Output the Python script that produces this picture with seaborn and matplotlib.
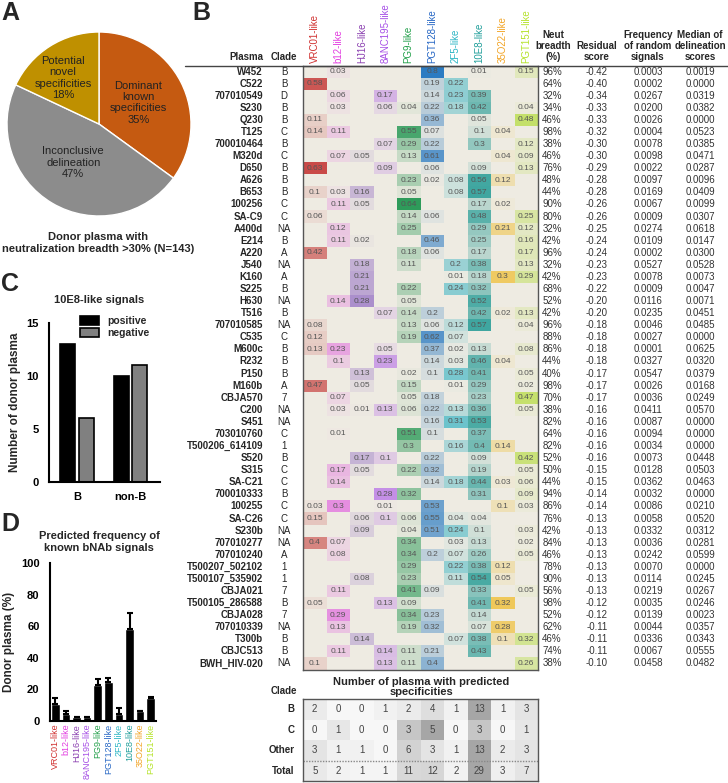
import numpy as np
import pandas as pd
import matplotlib
matplotlib.use('Agg')
import matplotlib.pyplot as plt
import seaborn as sns
from matplotlib.colors import LinearSegmentedColormap
from matplotlib.lines import Line2D

o = np.nan

# --- panel A
pie_labels = ['Dominant\nknown\nspecificities\n35%', 'Inconclusive\ndelineation\n47%',
              'Potential\nnovel\nspecificities\n18%']
pie_share = [35, 47, 18]

# --- panel C
c_groups = ['B', 'non-B']
c_positive = [13, 10]
c_negative = [6, 11]

# --- panel D
specs = ['VRC01-like', 'b12-like', 'HJ16-like', '8ANC195-like', 'PG9-like',
         'PGT128-like', '2F5-like', '10E8-like', '35O22-like', 'PGT151-like']
d_freq = [11, 4.5, 2.5, 2.5, 22.5, 24.5, 4.5, 58.5, 6.5, 14.5]
d_err = [3.5, 2, 0, 0, 4, 2.5, 3.5, 10, 0, 0.5]

# --- panel B
plasma = ['W452', 'C522', '707010549', 'S230', 'Q230', 'T125', '700010464', 'M320d', 'D650', 'A626',
          'B653', '100256', 'SA-C9', 'A400d', 'E214', 'A220', 'J540', 'K160', 'S225', 'H630',
          'T516', '707010585', 'C535', 'M600c', 'R232', 'P150', 'M160b', 'CBJA570', 'C200', 'S451',
          '703010760', 'T500206_614109', 'S520', 'S315', 'SA-C21', '700010333', '100255', 'SA-C26', 'S230b', '707010277',
          '707010240', 'T500207_502102', 'T500107_535902', 'CBJA021', 'T500105_286588', 'CBJA028', '707010339', 'T300b', 'CBJC513', 'BWH_HIV-020']
clade = ['B', 'B', 'D', 'B', 'B', 'C', 'B', 'C', 'B', 'B',
         'B', 'C', 'C', 'NA', 'B', 'A', 'NA', 'A', 'B', 'NA',
         'B', 'NA', 'C', 'B', 'B', 'B', 'A', '7', 'NA', 'NA',
         'C', '1', 'B', 'C', 'C', 'B', 'C', 'C', 'NA', 'NA',
         'A', '1', '1', '7', 'B', '7', 'NA', 'B', 'B', 'NA']
signal = [
    [o, .03, o, o, o, .8, o, .01, o, .15],
    [.58, o, o, o, o, .19, .22, o, o, o],
    [o, .06, o, .17, o, .14, .23, .39, o, o],
    [o, .03, o, .06, .04, .22, .18, .42, o, .04],
    [.11, o, o, o, o, .36, o, .05, o, .48],
    [.14, .11, o, o, .55, .07, o, .1, .04, o],
    [o, o, o, .07, .29, .22, o, .3, o, .12],
    [o, .07, .05, o, .13, .61, o, o, .04, .09],
    [.63, o, o, .09, o, .06, o, .09, o, .13],
    [o, o, o, o, .23, .02, .08, .56, .12, o],
    [.1, .03, .16, o, .05, o, .08, .57, o, o],
    [o, .11, .05, o, .64, o, o, .17, .02, o],
    [.06, o, o, o, .14, .06, o, .48, o, .25],
    [o, .12, o, o, .25, o, o, .29, .21, .12],
    [o, .11, .02, o, o, .46, o, .25, o, .16],
    [.42, o, o, o, .18, .06, o, .17, o, .17],
    [o, o, .18, o, .11, o, .2, .38, o, .13],
    [o, o, .21, o, o, o, .01, .18, .3, .29],
    [o, o, .21, o, .22, o, .24, .32, o, o],
    [o, .14, .28, o, .05, o, o, .52, o, o],
    [o, o, o, .07, .14, .2, o, .42, .02, .13],
    [.08, o, o, o, .13, .06, .12, .57, o, .04],
    [.12, o, o, o, .19, .62, .07, o, o, o],
    [.13, .23, o, .05, o, .37, .02, .13, o, .08],
    [o, .1, o, .23, o, .14, .03, .46, .04, o],
    [o, o, .13, o, .02, .1, .28, .41, o, .05],
    [.47, o, .05, o, .15, o, .01, .29, o, .02],
    [o, .07, o, o, .05, .18, o, .23, o, .47],
    [o, .03, .01, .13, .06, .22, .13, .36, o, .05],
    [o, o, o, o, o, .16, .31, .53, o, o],
    [o, .01, o, o, .51, .1, o, .37, o, o],
    [o, o, o, o, .3, o, .16, .4, .14, o],
    [o, o, .17, .1, o, .22, o, .09, o, .42],
    [o, .17, .05, o, .22, .32, o, .19, o, .05],
    [o, .14, o, o, o, .14, .18, .44, .03, .06],
    [o, o, o, .28, .32, o, o, .31, o, .09],
    [.03, .3, o, .01, o, .53, o, o, .1, .03],
    [.15, o, .06, .1, .06, .55, .04, .04, o, o],
    [o, o, .09, o, .04, .51, .24, .1, o, .03],
    [.4, .07, o, o, .34, o, .03, .13, o, .02],
    [o, .08, o, o, .34, .2, .07, .26, o, .05],
    [o, o, o, o, .29, o, .22, .38, .12, o],
    [o, o, .08, o, .23, o, .11, .54, .05, o],
    [o, .11, o, o, .41, .09, o, .33, o, .05],
    [.05, o, o, .13, .09, o, o, .41, .32, o],
    [o, .29, o, o, .34, .23, o, .14, o, o],
    [o, .13, o, o, .19, .32, o, .07, .28, o],
    [o, o, .14, o, o, o, .07, .38, .1, .32],
    [o, .11, o, .14, .11, .21, o, .43, o, o],
    [.1, o, o, .13, .11, .4, o, o, o, .26],
]
neut_breadth = [96, 64, 32, 34, 46, 98, 38, 46, 76, 48, 44, 90, 80, 32, 42, 96, 32, 42, 68, 52,
                42, 96, 88, 86, 44, 40, 98, 70, 38, 82, 64, 82, 52, 50, 44, 94, 86, 76, 42, 84,
                46, 78, 90, 56, 98, 52, 62, 46, 74, 38]
residual = [-0.42, -0.40, -0.34, -0.33, -0.33, -0.32, -0.30, -0.30, -0.29, -0.28,
            -0.28, -0.26, -0.26, -0.25, -0.24, -0.24, -0.23, -0.23, -0.22, -0.20,
            -0.20, -0.18, -0.18, -0.18, -0.18, -0.17, -0.17, -0.17, -0.16, -0.16,
            -0.16, -0.16, -0.16, -0.15, -0.15, -0.14, -0.14, -0.13, -0.13, -0.13,
            -0.13, -0.13, -0.13, -0.13, -0.12, -0.12, -0.11, -0.11, -0.11, -0.10]
rand_freq = [0.0003, 0.0002, 0.0267, 0.0200, 0.0026, 0.0004, 0.0078, 0.0098, 0.0022, 0.0097,
             0.0169, 0.0067, 0.0009, 0.0274, 0.0109, 0.0002, 0.0527, 0.0078, 0.0009, 0.0116,
             0.0235, 0.0046, 0.0027, 0.0001, 0.0327, 0.0547, 0.0026, 0.0036, 0.0411, 0.0087,
             0.0094, 0.0034, 0.0073, 0.0128, 0.0362, 0.0032, 0.0086, 0.0058, 0.0332, 0.0036,
             0.0242, 0.0070, 0.0114, 0.0219, 0.0035, 0.0139, 0.0044, 0.0336, 0.0067, 0.0458]
median_score = [0.0019, 0.0000, 0.0319, 0.0382, 0.0000, 0.0523, 0.0385, 0.0471, 0.0287, 0.0096,
                0.0409, 0.0099, 0.0307, 0.0618, 0.0147, 0.0300, 0.0528, 0.0073, 0.0047, 0.0071,
                0.0451, 0.0485, 0.0000, 0.0625, 0.0320, 0.0379, 0.0168, 0.0249, 0.0570, 0.0000,
                0.0000, 0.0000, 0.0448, 0.0503, 0.0463, 0.0000, 0.0210, 0.0520, 0.0312, 0.0281,
                0.0599, 0.0000, 0.0245, 0.0267, 0.0246, 0.0023, 0.0357, 0.0343, 0.0555, 0.0482]

# --- bottom count table
count_clades = ['B', 'C', 'Other', 'Total']
count_B = [2, 0, 0, 1, 2, 4, 1, 13, 1, 3]
count_C = [0, 1, 0, 0, 3, 5, 0, 3, 0, 1]
count_other = [3, 1, 1, 0, 6, 3, 1, 13, 2, 3]
count_total = [5, 2, 1, 1, 11, 12, 2, 29, 3, 7]

# styling
spec_colors = ['#d0302f', '#e23de0', '#8a3fb0', '#a64fe6', '#22a04a',
               '#2566c4', '#2bb5c4', '#1f9e9a', '#f2a527', '#b5e32a']
cell_colors = ['#c94a48', '#e58ee0', '#ab8fcc', '#c48fe6', '#2e9b5a',
               '#2b7bc2', '#6cc3cc', '#3fa6a0', '#efc85a', '#c4e06a']
bg = '#eeebe2'

sns.set_style('white')
plt.rcParams['font.family'] = ['Liberation Sans', 'DejaVu Sans']

W, H = 728, 783
fig = plt.figure(figsize=(W / 100, H / 100), dpi=100)


def box(l, t, w, h):
    return [l / W, 1 - (t + h) / H, w / W, h / H]


def ftext(x, y, s, **kw):
    fig.text(x / W, 1 - y / H, s, **kw)


def graphpad(ax):
    sns.despine(ax=ax)
    for s in ['left', 'bottom']:
        ax.spines[s].set_linewidth(1.5)
        ax.spines[s].set_color('black')
    ax.tick_params(direction='out', length=4, width=1.5, colors='black', labelsize=8)
    for t in ax.get_yticklabels() + ax.get_xticklabels():
        t.set_fontweight('bold')


# panel labels
for lab, x, y in [('A', 1, 1), ('B', 192, 1), ('C', 1, 272), ('D', 1, 512)]:
    ftext(x, y, lab, fontsize=18, fontweight='bold', va='top')

# ---------------- A: pie
ax = fig.add_axes(box(7, 32, 184, 184))
ax.pie(pie_share, colors=['#c55a11', '#8c8c8c', '#bf9000'], startangle=90, counterclock=False,
       wedgeprops=dict(edgecolor='white', linewidth=1))
ax.set_xlim(-1, 1)
ax.set_ylim(-1, 1)
for lab, (x, y) in zip(pie_labels, [(0.43, 0.23), (-0.28, -0.42), (-0.39, 0.5)]):
    ax.text(x, y, lab, ha='center', va='center', fontsize=8, color='#222', linespacing=1.15)
ftext(98, 243, 'Donor plasma with\nneutralization breadth >30% (N=143)', ha='center', va='center',
      fontsize=8, fontweight='bold', linespacing=1.3)

# ---------------- C: 10E8-like bars
dfc = pd.DataFrame({'group': c_groups * 2, 'count': c_positive + c_negative,
                    'signal': ['positive'] * 2 + ['negative'] * 2})
ax = fig.add_axes(box(49, 323, 111, 159))
sns.barplot(data=dfc, x='group', y='count', hue='signal', palette=['black', '#808080'],
            edgecolor='black', linewidth=1.2, width=0.7, gap=0.2, ax=ax)
ax.set_ylim(0, 15)
ax.set_yticks([0, 5, 10, 15])
ax.set_xlim(-0.52, 1.55)
ax.set_xlabel('')
ax.set_ylabel('Number of donor plasma', fontsize=8.5, fontweight='bold')
graphpad(ax)
ax.legend(frameon=False, loc='upper left', bbox_to_anchor=(0.24, 1.07), handlelength=1.8,
          handleheight=0.9, prop={'size': 7.5, 'weight': 'bold'}, borderaxespad=0, labelspacing=0.2)
ftext(99, 300, '10E8-like signals', ha='center', va='center', fontsize=8, fontweight='bold')

# ---------------- D: predicted frequency
dfd = pd.DataFrame({'spec': specs, 'freq': d_freq})
ax = fig.add_axes(box(50, 563, 106, 158))
sns.barplot(data=dfd, x='spec', y='freq', color='black', width=0.82, ax=ax)
ax.errorbar(range(len(specs)), d_freq, yerr=[np.zeros(len(specs)), d_err], fmt='none',
            ecolor='black', elinewidth=1.5, capsize=2.5, capthick=1.5)
ax.set_ylim(0, 100)
ax.set_yticks(range(0, 101, 20))
ax.set_xlim(-0.5, 9.5)
ax.set_xlabel('')
ax.set_ylabel('Donor plasma (%)', fontsize=8.5, fontweight='bold')
graphpad(ax)
ax.tick_params(axis='x', length=0, pad=2)
ax.set_xticks(range(len(specs)))
ax.set_xticklabels(specs, rotation=90, fontsize=6.5)
for t, c in zip(ax.get_xticklabels(), spec_colors):
    t.set_color(c)
    t.set_fontweight('normal')
ftext(99, 542, 'Predicted frequency of\nknown bNAb signals', ha='center', va='center',
      fontsize=8, fontweight='bold', linespacing=1.3)

# ---------------- B: heat table
nrow = len(plasma)
top, bot = 65.5, 669.5
sig = pd.DataFrame(signal, index=plasma, columns=specs)
annot = sig.map(lambda v: '' if np.isnan(v) else f'{v:.2f}'.rstrip('0')).values
ax = fig.add_axes(box(303, top, 235, bot - top))
ax.set_facecolor(bg)
for j, col in enumerate(specs):
    mask = np.ones(sig.shape, bool)
    mask[:, j] = False
    mask |= sig.isna().values
    cmap = LinearSegmentedColormap.from_list(col, [bg, cell_colors[j]])
    sns.heatmap(sig, mask=mask, cmap=cmap, vmin=0, vmax=np.nanmax(sig[col]), annot=annot, fmt='',
                annot_kws={'fontsize': 6, 'color': '#555555'}, cbar=False, ax=ax,
                xticklabels=True, yticklabels=False)
ax.xaxis.tick_top()
ax.tick_params(axis='x', length=0, pad=2)
ax.set_xticklabels(specs, rotation=90, fontsize=7, va='bottom')
for t, c in zip(ax.get_xticklabels(), spec_colors):
    t.set_color(c)
ax.set_xlabel('')
ax.set_ylabel('')
for sp in ax.spines.values():
    sp.set_visible(True)
    sp.set_color('#555555')
    sp.set_linewidth(1)

# row labels and clade
ax = fig.add_axes(box(185, top, 118, bot - top))
ax.set_xlim(185, 303)
ax.set_ylim(nrow, 0)
ax.axis('off')
for i, (p, c) in enumerate(zip(plasma, clade)):
    ax.text(263, i + 0.5, p, ha='right', va='center', fontsize=7, fontweight='bold')
    ax.text(284, i + 0.5, c, ha='center', va='center', fontsize=7)

# numeric columns
ax = fig.add_axes(box(539, top, 189, bot - top))
ax.set_xlim(539, 728)
ax.set_ylim(nrow, 0)
ax.axis('off')
for i in range(nrow):
    for x, s in zip([552, 597, 648, 700],
                    [f'{neut_breadth[i]}%', f'{residual[i]:.2f}', f'{rand_freq[i]:.4f}',
                     f'{median_score[i]:.4f}']):
        ax.text(x, i + 0.5, s, ha='center', va='center', fontsize=7, color='#333333')

# headers
hy = top - 3
ftext(263, hy, 'Plasma', ha='right', va='bottom', fontsize=7, fontweight='bold')
ftext(284, hy, 'Clade', ha='center', va='bottom', fontsize=7, fontweight='bold')
for x, s in zip([553, 597, 648, 700],
                ['Neut\nbreadth\n(%)', 'Residual\nscore', 'Frequency\nof random\nsignals',
                 'Median of\ndelineation\nscores']):
    ftext(x, hy, s, ha='center', va='bottom', fontsize=7, fontweight='bold', linespacing=1.15)
fig.add_artist(Line2D([185 / W, 1], [1 - top / H, 1 - top / H], color='#444444', lw=1))

# ---------------- bottom count table
counts = pd.DataFrame([count_B, count_C, count_other, count_total], index=count_clades, columns=specs)
ax = fig.add_axes(box(303, 699, 235, 82))
for r in range(len(count_clades)):
    mask = np.ones(counts.shape, bool)
    mask[r, :] = False
    cmap = LinearSegmentedColormap.from_list('g%d' % r, ['#f7f7f7', '#a6a6a6'])
    sns.heatmap(counts, mask=mask, cmap=cmap, vmin=0, vmax=counts.iloc[r].max(), annot=True, fmt='d',
                annot_kws={'fontsize': 7, 'color': '#444444'}, cbar=False, ax=ax,
                xticklabels=False, yticklabels=True)
ax.tick_params(axis='y', length=0, pad=6)
ax.set_yticklabels(count_clades, rotation=0, fontsize=7, fontweight='bold', ha='right')
ax.set_xlabel('')
ax.set_ylabel('')
ax.axhline(3, color='#888888', ls=(0, (1, 1)), lw=1)
for sp in ax.spines.values():
    sp.set_visible(True)
    sp.set_color('#555555')
    sp.set_linewidth(1)
ftext(297, 691, 'Clade', ha='right', va='center', fontsize=7, fontweight='bold')
ftext(421, 687, 'Number of plasma with predicted\nspecificities', ha='center', va='center',
      fontsize=8, fontweight='bold', linespacing=1.1)

plt.savefig('out.png', dpi=100)
